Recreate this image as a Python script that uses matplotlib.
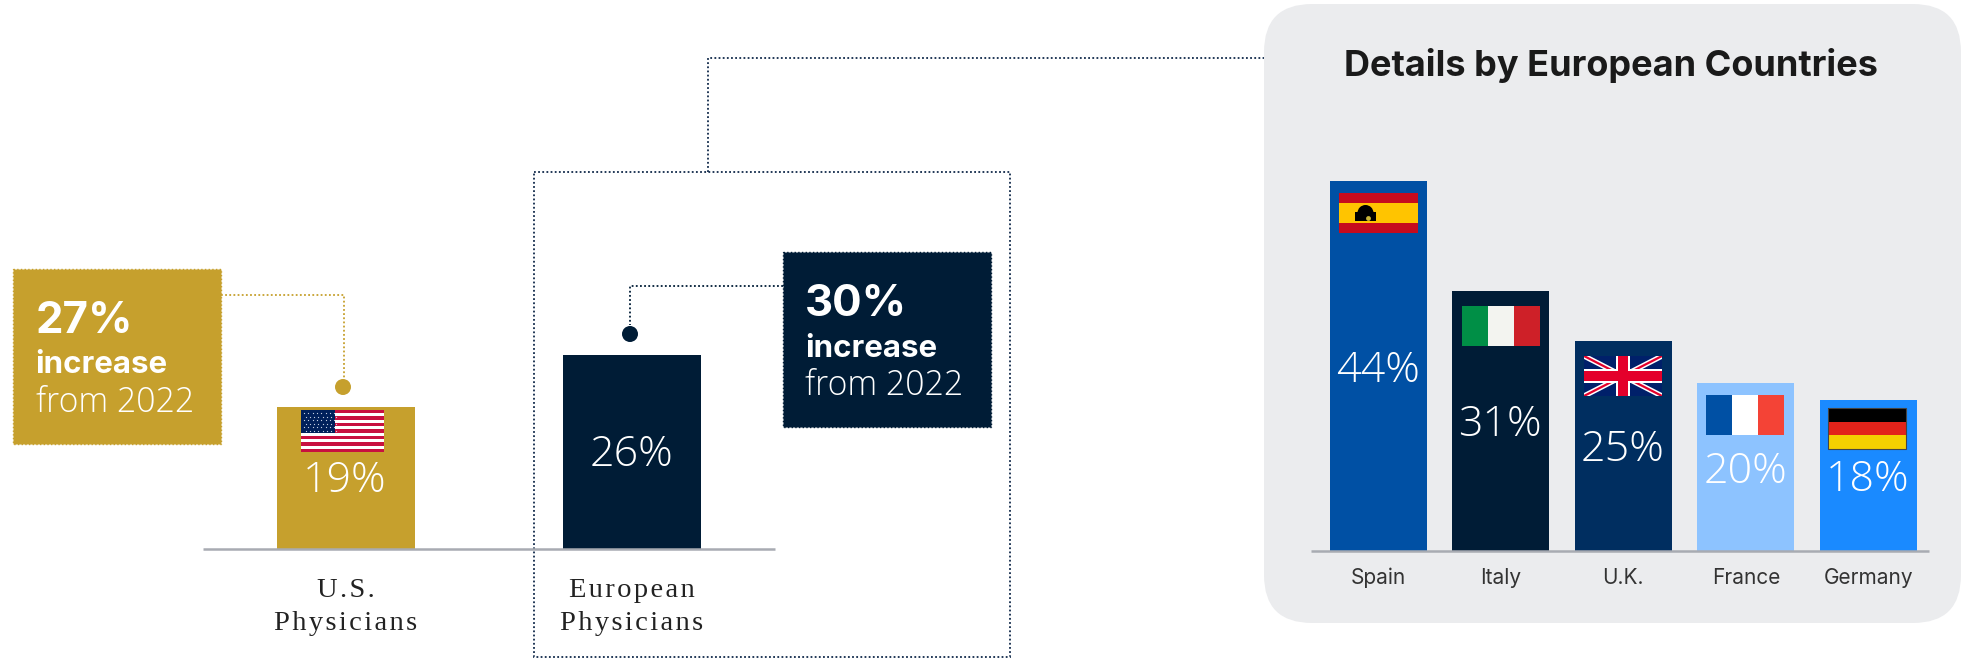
import matplotlib.pyplot as plt
from matplotlib.patches import Rectangle, Circle, FancyBboxPatch

W, H = 1961, 659

# Chart data
physician_labels = ['U.S.\nPhysicians', 'European\nPhysicians']
physician_values = [19, 26]
physician_colors = ['#C6A02D', '#001C36']

country_labels = ['Spain', 'Italy', 'U.K.', 'France', 'Germany']
country_values = [44, 31, 25, 20, 18]
country_colors = ['#0050A4', '#001C36', '#002E60', '#8DC3FF', '#1A8AFF']

GOLD = '#C6A02D'
NAVY = '#001C36'
SANS = 'Inter'
LIGHT = 'Open Sans'
SERIF = 'Liberation Serif'


def px_axes(left, right, top, bottom, zorder):
    return fig.add_axes([left / W, 1 - bottom / H, (right - left) / W, (bottom - top) / H], zorder=zorder)


def spaced(label):
    # the original labels are letter-spaced, hair spaces are the closest thing
    return '\n'.join('\u200a'.join(line) for line in label.split('\n'))


def bar_axes(left, right, top, bottom, xlim, ymax):
    ax = px_axes(left, right, top, bottom, 2)
    ax.patch.set_visible(False)
    ax.set_xlim(*xlim)
    ax.set_ylim(0, ymax)
    for side in ['top', 'left', 'right']:
        ax.spines[side].set_visible(False)
    ax.spines['bottom'].set_color('#A8ABB2')
    ax.spines['bottom'].set_linewidth(1.8)
    ax.spines['bottom'].set_capstyle('butt')
    ax.set_yticks([])
    return ax


def stripes_h(x, y, w, h, colors):
    for i, c in enumerate(colors):
        top.add_patch(Rectangle((x, y + i * h / len(colors)), w, h / len(colors), fc=c, ec='none'))


def stripes_v(x, y, w, h, colors):
    for i, c in enumerate(colors):
        top.add_patch(Rectangle((x + i * w / len(colors), y), w / len(colors), h, fc=c, ec='none'))


def flag_us(x, y, w, h):
    stripes_h(x, y, w, h, ['#C8103F', '#FFFFFF'] * 6 + ['#C8103F'])
    top.add_patch(Rectangle((x, y), w * 0.41, h * 0.54, fc='#00205B', ec='none'))
    for row in range(6):
        for col in range(8):
            top.plot(x + 3 + col * 4.3 + (row % 2) * 1.5, y + 3 + row * 3.6, 'o', ms=0.9, color='#C9D3E6', mew=0)


def flag_spain(x, y, w, h):
    stripes_h(x, y, w, h, ['#C60B1E', '#FFC400', '#FFC400', '#C60B1E'])
    top.add_patch(Rectangle((x + 16, y + 19), 21, 9, fc='black', ec='none'))
    top.add_patch(Circle((x + 26.5, y + 20), 8, fc='black', ec='none'))
    top.plot(x + 29, y + 25, 'o', ms=3.5, color='#C9B53A', mew=0)


def flag_uk(x, y, w, h):
    top.add_patch(Rectangle((x, y), w, h, fc='#00206A', ec='none'))
    clip = Rectangle((x, y), w, h, transform=top.transData)
    for lw, c in [(3.8, '#FFFFFF'), (1.6, '#E4002B')]:
        for ys in [(y, y + h), (y + h, y)]:
            line, = top.plot([x, x + w], ys, color=c, lw=lw, solid_capstyle='butt')
            line.set_clip_path(clip)
    cx, cy = x + w / 2, y + h / 2
    # crosses go over the diagonals
    top.add_patch(Rectangle((cx - 7, y), 14, h, fc='#FFFFFF', ec='none', zorder=3))
    top.add_patch(Rectangle((x, cy - 7), w, 14, fc='#FFFFFF', ec='none', zorder=3))
    top.add_patch(Rectangle((cx - 5, y), 10, h, fc='#E4002B', ec='none', zorder=3))
    top.add_patch(Rectangle((x, cy - 5), w, 10, fc='#E4002B', ec='none', zorder=3))


fig = plt.figure(figsize=(W / 100, H / 100), dpi=100, facecolor='white')

# Background layer, grey panel and dotted box
back = px_axes(0, W, 0, H, 0)
back.set_xlim(0, W)
back.set_ylim(H, 0)
back.axis('off')
back.add_patch(FancyBboxPatch((1264, 4), 697, 619, boxstyle='round,pad=0,rounding_size=48', fc='#EBECEE', ec='none'))
back.add_patch(Rectangle((534, 172), 476, 485, fill=False, ec='#10294A', lw=1.3, ls=(0, (1, 1.3))))
back.plot([708, 708, 1264], [172, 58, 58], color='#10294A', lw=1.3, ls=(0, (1, 1.3)))

# Left bars
left = bar_axes(203, 775, 325, 548.5, (-0.5, 1.5), 30)
left.bar(range(len(physician_values)), physician_values, width=0.4825, color=physician_colors)
left.set_xticks(range(len(physician_labels)))
left.set_xticklabels([spaced(s) for s in physician_labels], family=SERIF, fontsize=20.5, color='#222222', linespacing=1.45)
left.tick_params(axis='x', length=0, pad=21)

# Right bars
right = bar_axes(1311, 1929, 130, 551, (-0.55, 4.495), 50.1)
right.bar(range(len(country_values)), country_values, width=0.79, color=country_colors)
right.set_xticks(range(len(country_labels)))
right.set_xticklabels(country_labels, family=SANS, fontsize=15, color='#333333')
right.tick_params(axis='x', length=0, pad=12)

# Top layer, callouts, flags and labels
top = px_axes(0, W, 0, H, 3)
top.patch.set_visible(False)
top.set_xlim(0, W)
top.set_ylim(H, 0)
top.axis('off')

top.add_patch(Rectangle((13, 269), 208, 175, fc=GOLD, ec=GOLD, lw=1, ls=':'))
top.plot([221, 344, 344], [295, 295, 378], color=GOLD, lw=1.3, ls=(0, (1, 1.3)))
top.add_patch(Circle((343, 387), 8, fc=GOLD, ec='none'))

top.add_patch(Rectangle((783, 252), 208, 175, fc=NAVY, ec=NAVY, lw=1, ls=':'))
top.plot([783, 630, 630], [286, 286, 325], color=NAVY, lw=1.3, ls=(0, (1, 1.3)))
top.add_patch(Circle((630, 334), 8, fc=NAVY, ec='none'))

for x, y_pct, y_inc, y_from, pct in [(35.5, 333, 373, 412, '27%'), (805, 316, 357, 395, '30%')]:
    top.text(x, y_pct, pct, family=SANS, weight='bold', fontsize=31.5, color='white', va='baseline')
    top.text(x, y_inc, 'increase', family=SANS, weight='bold', fontsize=22.5, color='white', va='baseline')
    top.text(x, y_from, 'from 2022', family=LIGHT, weight='light', fontsize=24.3, color='white', va='baseline')

for x, y, v in zip([345, 631], [492, 466], physician_values):
    top.text(x, y, f'{v}%', family=LIGHT, weight='light', fontsize=31, color='white', ha='center', va='baseline')
for x, y, v in zip([1378, 1500, 1623, 1745, 1868], [382, 436, 461, 483, 491], country_values):
    top.text(x, y, f'{v}%', family=LIGHT, weight='light', fontsize=31, color='white', ha='center', va='baseline')

top.text(1611, 65.5, 'Details by European Countries', family=SANS, weight='bold', fontsize=26,
         color='#1A1A1A', ha='center', va='center')

# Flags
flag_us(301, 410, 83, 42)
flag_spain(1339, 193, 79, 40)
stripes_v(1462, 306, 78, 40, ['#008F46', '#F3F4F0', '#CE2028'])
flag_uk(1584, 356, 78, 40)
stripes_v(1706, 395, 78, 40, ['#0050A4', '#FFFFFF', '#F44336'])
stripes_h(1828, 408, 78, 41, ['#000000', '#E2231A', '#F4D000'])
top.add_patch(Rectangle((1828, 408), 78, 41, fill=False, ec='#444444', lw=0.8))

plt.savefig('out.png', dpi=100)
